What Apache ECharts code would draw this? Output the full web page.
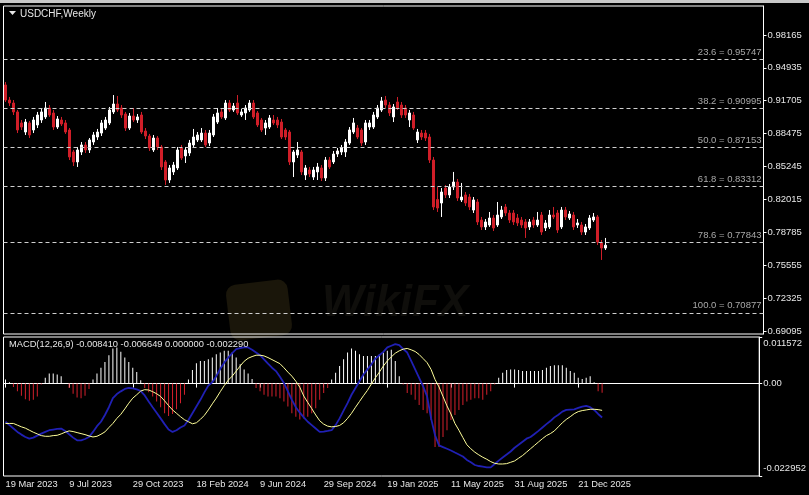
<!DOCTYPE html>
<html><head><meta charset="utf-8">
<script src="https://cdn.jsdelivr.net/npm/echarts@6/dist/echarts.min.js"></script>
<style>html,body{margin:0;padding:0;background:#000}#c{width:809px;height:495px}</style>
</head><body><div id="c"></div>
<script>
const symbolTitle = 'USDCHF,Weekly';
const weekCount = 190;
const tickLabels = ['19 Mar 2023','9 Jul 2023','29 Oct 2023','18 Feb 2024','9 Jun 2024','29 Sep 2024','19 Jan 2025','11 May 2025','31 Aug 2025','21 Dec 2025'];
const priceTicks = [0.69095,0.72325,0.75555,0.78785,0.82015,0.85245,0.88475,0.91705,0.94935,0.98165];
const macdTicks = [-0.022952, 0, 0.011572];
const fibLevels = [23.6,38.2,50.0,61.8,78.6,100.0];
const fibPrices = [0.95747,0.90995,0.87153,0.83312,0.77843,0.70877];
const lastPrice = 0.77518;
const macdHeader = [-0.008410,-0.006649,0.000000,-0.002290];

const opens = [0.9325,0.9177,0.9148,0.9060,0.8952,0.8863,0.8952,0.8883,0.8932,0.8981,
0.9011,0.9099,0.9050,0.8912,0.8981,0.8952,0.8883,0.8667,0.8569,0.8667,
0.8736,0.8687,0.8765,0.8814,0.8853,0.8902,0.8952,0.9060,0.9138,0.9099,
0.9040,0.8902,0.9020,0.8981,0.9030,0.8873,0.8824,0.8687,0.8804,0.8716,
0.8569,0.8392,0.8471,0.8510,0.8706,0.8628,0.8657,0.8736,0.8785,0.8785,
0.8853,0.8755,0.8834,0.8961,0.9060,0.9001,0.9148,0.9079,0.9148,0.9030,
0.9050,0.9079,0.9148,0.9050,0.8981,0.8902,0.8912,0.8981,0.8981,0.8961,
0.8883,0.8863,0.8569,0.8637,0.8667,0.8441,0.8490,0.8421,0.8471,0.8510,
0.8412,0.8588,0.8569,0.8647,0.8667,0.8667,0.8755,0.8863,0.8902,0.8883,
0.8765,0.8912,0.8912,0.9011,0.9079,0.9177,0.9128,0.9011,0.9158,0.9128,
0.9099,0.8981,0.9030,0.8785,0.8853,0.8853,0.8814,0.8588,0.8200,0.8166,
0.8313,0.8245,0.8323,0.8372,0.8196,0.8245,0.8225,0.8097,0.8176,0.7999,
0.7931,0.7950,0.8019,0.7950,0.8029,0.8127,0.8068,0.8068,0.8019,0.7999,
0.7980,0.7931,0.7999,0.7950,0.8048,0.7921,0.7931,0.8048,0.8068,0.7931,
0.8097,0.8019,0.8048,0.7950,0.7950,0.7881,0.7921,0.7999,0.8029,0.7774,
0.7724];
const closes = [0.9177,0.9148,0.9060,0.8883,0.8912,0.8961,0.8834,0.8981,0.9030,0.9060,
0.9099,0.9030,0.8912,0.8991,0.8942,0.8863,0.8618,0.8569,0.8687,0.8736,
0.8687,0.8785,0.8834,0.8863,0.8952,0.8981,0.9079,0.9138,0.9079,0.9030,
0.8902,0.9020,0.8981,0.9011,0.8863,0.8824,0.8706,0.8804,0.8716,0.8520,
0.8392,0.8510,0.8539,0.8687,0.8608,0.8687,0.8755,0.8814,0.8834,0.8853,
0.8736,0.8853,0.9011,0.9050,0.9011,0.9148,0.9079,0.9118,0.9050,0.9060,
0.9099,0.9148,0.9011,0.8932,0.8883,0.8952,0.9001,0.8952,0.8932,0.8814,
0.8814,0.8569,0.8667,0.8687,0.8471,0.8510,0.8451,0.8490,0.8520,0.8412,
0.8588,0.8520,0.8647,0.8677,0.8706,0.8765,0.8883,0.8952,0.8814,0.8755,
0.8952,0.8952,0.9030,0.9099,0.9168,0.9128,0.9050,0.9109,0.9099,0.9030,
0.9030,0.9050,0.8902,0.8863,0.8814,0.8804,0.8588,0.8127,0.8117,0.8274,
0.8245,0.8323,0.8372,0.8215,0.8225,0.8166,0.8127,0.8196,0.7980,0.7931,
0.7980,0.8019,0.7921,0.8048,0.8097,0.8068,0.7999,0.7980,0.7970,0.7950,
0.7921,0.7980,0.7950,0.7999,0.7881,0.7970,0.8048,0.8029,0.7901,0.8097,
0.8029,0.8058,0.7931,0.7970,0.7881,0.7931,0.8019,0.8029,0.7783,0.7724,
0.77518];
const lows = [0.9158,0.9118,0.9030,0.8853,0.8883,0.8834,0.8804,0.8853,0.8902,0.8952,
0.8991,0.9011,0.8883,0.8893,0.8922,0.8844,0.8588,0.8529,0.8520,0.8637,
0.8657,0.8657,0.8736,0.8785,0.8824,0.8883,0.8932,0.9040,0.9060,0.9001,
0.8873,0.8883,0.8961,0.8952,0.8844,0.8794,0.8677,0.8667,0.8687,0.8490,
0.8343,0.8363,0.8441,0.8490,0.8588,0.8559,0.8628,0.8716,0.8765,0.8765,
0.8716,0.8726,0.8814,0.8942,0.8991,0.8981,0.9060,0.9060,0.9030,0.9011,
0.8981,0.9060,0.8991,0.8912,0.8863,0.8834,0.8893,0.8932,0.8902,0.8794,
0.8785,0.8539,0.8421,0.8608,0.8441,0.8392,0.8421,0.8392,0.8392,0.8382,
0.8382,0.8500,0.8549,0.8618,0.8637,0.8618,0.8736,0.8844,0.8794,0.8726,
0.8736,0.8883,0.8893,0.8991,0.9060,0.9099,0.9020,0.8961,0.9079,0.9001,
0.9001,0.8912,0.8883,0.8755,0.8785,0.8775,0.8559,0.8097,0.8078,0.8029,
0.8215,0.8215,0.8294,0.8186,0.8176,0.8137,0.8097,0.8068,0.7950,0.7901,
0.7901,0.7931,0.7891,0.7931,0.8009,0.8039,0.7970,0.7950,0.7940,0.7921,
0.7823,0.7901,0.7921,0.7931,0.7852,0.7891,0.7911,0.8009,0.7872,0.7911,
0.7999,0.7999,0.7901,0.7921,0.7852,0.7852,0.7901,0.7980,0.7754,0.7607,
0.7705];
const highs = [0.9354,0.9207,0.9177,0.9079,0.8981,0.8991,0.8971,0.9011,0.9060,0.9089,
0.9158,0.9128,0.9079,0.9020,0.9011,0.8981,0.8902,0.8687,0.8716,0.8765,
0.8765,0.8804,0.8863,0.8893,0.8981,0.9011,0.9109,0.9226,0.9217,0.9128,
0.9060,0.9050,0.9099,0.9040,0.9060,0.8902,0.8844,0.8834,0.8824,0.8736,
0.8588,0.8539,0.8569,0.8716,0.8736,0.8716,0.8785,0.8893,0.8863,0.8902,
0.8883,0.8883,0.9040,0.9099,0.9089,0.9177,0.9177,0.9148,0.9226,0.9089,
0.9128,0.9177,0.9177,0.9069,0.9001,0.8981,0.9030,0.9030,0.9011,0.8991,
0.8902,0.8883,0.8687,0.8765,0.8687,0.8539,0.8520,0.8520,0.8559,0.8539,
0.8618,0.8618,0.8677,0.8706,0.8736,0.8794,0.8912,0.9001,0.8932,0.8902,
0.8981,0.8981,0.9060,0.9128,0.9207,0.9217,0.9158,0.9138,0.9207,0.9158,
0.9128,0.9079,0.9060,0.8893,0.8883,0.8883,0.8844,0.8618,0.8323,0.8313,
0.8343,0.8353,0.8471,0.8402,0.8363,0.8274,0.8255,0.8225,0.8205,0.8029,
0.8009,0.8078,0.8048,0.8176,0.8137,0.8156,0.8097,0.8097,0.8058,0.8029,
0.8009,0.8009,0.8029,0.8078,0.8078,0.7999,0.8097,0.8127,0.8097,0.8127,
0.8127,0.8088,0.8078,0.8009,0.7980,0.7960,0.8048,0.8068,0.8048,0.7803,
0.7823];

const histogram = [0.00101,0.00034,-0.00084,-0.00193,-0.00302,-0.00386,-0.00428,-0.00403,-0.00319,-0.00025,
0.00143,0.00252,0.00252,0.00227,0.00185,0.00017,-0.00109,-0.00252,-0.00344,-0.00361,
-0.00302,-0.00134,0.00101,0.00252,0.00394,0.00537,0.00705,0.00873,0.00898,0.00789,
0.00646,0.00537,0.00394,0.00285,0.00084,-0.00109,-0.00218,-0.00319,-0.00445,-0.00587,
-0.00738,-0.00805,-0.00755,-0.00638,-0.00487,-0.00277,0.00101,0.00336,0.00503,0.00562,
0.00562,0.00604,0.00646,0.00730,0.00772,0.00814,0.00814,0.00772,0.00646,0.00478,
0.00352,0.00252,0.00117,-0.00109,-0.00193,-0.00277,-0.00319,-0.00319,-0.00319,-0.00361,
-0.00445,-0.00571,-0.00738,-0.00822,-0.00889,-0.00864,-0.00822,-0.00738,-0.00612,-0.00403,
-0.00235,-0.00109,0.00101,0.00268,0.00436,0.00604,0.00772,0.00873,0.00814,0.00730,
0.00688,0.00688,0.00688,0.00688,0.00730,0.00772,0.00814,0.00839,0.00562,0.00185,
-0.00025,-0.00235,-0.00277,-0.00403,-0.00529,-0.00654,-0.00738,-0.00906,-0.01577,-0.01577,
-0.01326,-0.01158,-0.00906,-0.00780,-0.00654,-0.00529,-0.00445,-0.00403,-0.00361,-0.00361,
-0.00403,-0.00277,-0.00193,-0.00025,0.00143,0.00268,0.00336,0.00352,0.00352,0.00336,
0.00310,0.00310,0.00310,0.00310,0.00310,0.00336,0.00394,0.00436,0.00453,0.00453,
0.00453,0.00394,0.00310,0.00268,0.00143,0.00117,0.00143,0.00185,0.00034,-0.00193,
-0.00229];
const signalLine = [-0.00990,-0.00990,-0.00990,-0.01032,-0.01074,-0.01107,-0.01158,-0.01208,-0.01250,-0.01292,
-0.01309,-0.01309,-0.01292,-0.01284,-0.01250,-0.01208,-0.01175,-0.01191,-0.01217,-0.01242,
-0.01267,-0.01300,-0.01326,-0.01309,-0.01259,-0.01200,-0.01091,-0.00990,-0.00864,-0.00763,
-0.00629,-0.00487,-0.00361,-0.00277,-0.00185,-0.00151,-0.00159,-0.00201,-0.00252,-0.00319,
-0.00428,-0.00545,-0.00654,-0.00738,-0.00822,-0.00898,-0.00948,-0.00998,-0.00973,-0.00889,
-0.00789,-0.00654,-0.00503,-0.00361,-0.00201,-0.00050,0.00084,0.00185,0.00310,0.00436,
0.00554,0.00629,0.00671,0.00705,0.00705,0.00688,0.00646,0.00596,0.00545,0.00495,
0.00394,0.00285,0.00185,0.00059,-0.00092,-0.00310,-0.00470,-0.00621,-0.00780,-0.00923,
-0.01007,-0.01057,-0.01074,-0.01066,-0.01040,-0.00973,-0.00864,-0.00738,-0.00587,-0.00445,
-0.00302,-0.00168,-0.00008,0.00143,0.00285,0.00436,0.00562,0.00663,0.00755,0.00814,
0.00856,0.00873,0.00839,0.00797,0.00722,0.00621,0.00520,0.00352,0.00101,-0.00084,
-0.00319,-0.00554,-0.00755,-0.00990,-0.01158,-0.01342,-0.01519,-0.01619,-0.01703,-0.01770,
-0.01829,-0.01879,-0.01938,-0.01980,-0.01997,-0.01997,-0.01988,-0.01955,-0.01921,-0.01854,
-0.01787,-0.01703,-0.01619,-0.01535,-0.01451,-0.01368,-0.01292,-0.01242,-0.01175,-0.01074,
-0.00973,-0.00889,-0.00822,-0.00747,-0.00696,-0.00671,-0.00654,-0.00638,-0.00638,-0.00646,
-0.006649];
const macdLine = [-0.00948,-0.01032,-0.01116,-0.01200,-0.01267,-0.01326,-0.01368,-0.01342,-0.01292,-0.01242,
-0.01200,-0.01158,-0.01141,-0.01124,-0.01116,-0.01175,-0.01259,-0.01342,-0.01410,-0.01410,
-0.01376,-0.01326,-0.01200,-0.01057,-0.00948,-0.00780,-0.00587,-0.00361,-0.00260,-0.00193,
-0.00134,-0.00109,-0.00117,-0.00143,-0.00185,-0.00294,-0.00445,-0.00587,-0.00722,-0.00864,
-0.01007,-0.01141,-0.01200,-0.01158,-0.01091,-0.01040,-0.00906,-0.00738,-0.00571,-0.00403,
-0.00218,-0.00050,0.00034,0.00185,0.00369,0.00520,0.00646,0.00755,0.00856,0.00881,
0.00898,0.00898,0.00839,0.00772,0.00705,0.00604,0.00495,0.00394,0.00310,0.00168,
0.00017,-0.00193,-0.00403,-0.00587,-0.00722,-0.00839,-0.00948,-0.01032,-0.01116,-0.01200,
-0.01191,-0.01175,-0.01158,-0.01032,-0.00864,-0.00671,-0.00487,-0.00277,-0.00109,0.00059,
0.00227,0.00352,0.00478,0.00621,0.00705,0.00789,0.00898,0.00940,0.00982,0.00956,
0.00856,0.00772,0.00562,0.00352,0.00143,-0.00067,-0.00319,-0.00864,-0.01284,-0.01535,
-0.01577,-0.01619,-0.01661,-0.01712,-0.01762,-0.01812,-0.01896,-0.01955,-0.02022,-0.02047,
-0.02064,-0.02081,-0.02081,-0.01997,-0.01913,-0.01837,-0.01762,-0.01686,-0.01594,-0.01519,
-0.01443,-0.01368,-0.01326,-0.01250,-0.01175,-0.01091,-0.01007,-0.00931,-0.00839,-0.00772,
-0.00696,-0.00654,-0.00646,-0.00638,-0.00604,-0.00571,-0.00554,-0.00587,-0.00654,-0.00755,
-0.00841];

const monthNames = ['Jan','Feb','Mar','Apr','May','Jun','Jul','Aug','Sep','Oct','Nov','Dec'];
const categories = [];
const firstWeek = Date.UTC(2023, 2, 19);
for (let i = 0; i < weekCount; i++) {
  const d = new Date(firstWeek + i * 7 * 86400000);
  categories.push(d.getUTCDate() + ' ' + monthNames[d.getUTCMonth()] + ' ' + d.getUTCFullYear());
}
const candles = opens.map((o, i) => [o, closes[i], lows[i], highs[i]]);
const showDate = (idx, val) => tickLabels.indexOf(val) >= 0;

const FONT = 'Liberation Sans';
const chart = echarts.init(document.getElementById('c'), null, {renderer: 'canvas'});
chart.setOption({
  backgroundColor: '#000',
  animation: false,
  textStyle: {fontFamily: FONT},
  title: [
    {text: symbolTitle, left: 20, top: 9, padding: 0,
     textStyle: {color: '#e6e6e6', fontSize: 10, fontWeight: 'normal', fontFamily: FONT}},
    {text: 'MACD(12,26,9) ' + macdHeader.map(v => v.toFixed(6)).join(' '), left: 9, top: 340, padding: 0,
     textStyle: {color: '#e6e6e6', fontSize: 9.3, fontWeight: 'normal', fontFamily: FONT}}
  ],
  graphic: [
    {type: 'rect', shape: {x: 0, y: 0, width: 809, height: 3}, style: {fill: '#c8c8c8'}, silent: true},
    {type: 'polygon', shape: {points: [[9, 11], [16, 11], [12.5, 15]]}, style: {fill: '#e6e6e6'}, silent: true},
    {type: 'rect', shape: {x: 228, y: 282, width: 62, height: 56, r: 10}, rotation: 0.12, originX: 259, originY: 310,
     style: {fill: '#1a160a'}, silent: true, z: -1},
    {type: 'text', left: 322, top: 282, z: -1, silent: true,
     style: {text: 'WikiFX', fill: '#0f0e0b', font: 'bold italic 44px "Liberation Sans"'}}
  ],
  grid: [
    {left: 3.5, right: 45.5, top: 6, height: 328, show: true, borderColor: '#ffffff', borderWidth: 1, backgroundColor: 'transparent'},
    {left: 3.5, right: 45.5, top: 337, height: 139, show: true, borderColor: '#ffffff', borderWidth: 1, backgroundColor: 'transparent'}
  ],
  xAxis: [
    {type: 'category', gridIndex: 0, data: categories, boundaryGap: true,
     axisLine: {show: false}, axisTick: {show: false}, axisLabel: {show: false}, splitLine: {show: false}},
    {type: 'category', gridIndex: 1, data: categories, boundaryGap: true,
     axisLine: {show: true, lineStyle: {color: '#ffffff'}},
     axisTick: {show: true, alignWithLabel: true, interval: showDate, length: 4, lineStyle: {color: '#ffffff'}},
     axisLabel: {show: true, interval: showDate, align: 'left', margin: 4, color: '#e6e6e6', fontSize: 9.3, fontFamily: FONT},
     splitLine: {show: false}}
  ],
  yAxis: [
    {type: 'value', gridIndex: 0, position: 'right', min: 0.688, max: 1.01002, scale: true,
     axisLine: {show: true, lineStyle: {color: '#ffffff'}},
     axisTick: {show: true, customValues: priceTicks, length: 3, lineStyle: {color: '#ffffff'}},
     axisLabel: {show: true, customValues: priceTicks, formatter: v => v.toFixed(5), margin: 4,
                 color: '#e6e6e6', fontSize: 9.5, fontFamily: FONT},
     splitLine: {show: false}},
    {type: 'value', gridIndex: 1, position: 'right', min: -0.022952, max: 0.011572,
     axisLine: {show: true, lineStyle: {color: '#ffffff'}},
     axisTick: {show: true, customValues: macdTicks, length: 3, lineStyle: {color: '#ffffff'}},
     axisLabel: {show: true, customValues: macdTicks, margin: 4, color: '#e6e6e6', fontSize: 9.5, fontFamily: FONT,
       formatter: v => v === 0 ? '0.00' : (v > 0 ? '{t|' + v.toFixed(6) + '}' : '{b|' + v.toFixed(6) + '}'),
       rich: {t: {padding: [12, 0, 0, 0], fontSize: 9.5, color: '#e6e6e6'}, b: {padding: [0, 0, 16, 0], fontSize: 9.5, color: '#e6e6e6'}}},
     splitLine: {show: false}}
  ],
  series: [
    {type: 'candlestick', xAxisIndex: 0, yAxisIndex: 0, data: candles, barWidth: 3,
     itemStyle: {color: '#ffffff', color0: '#d01e28', borderColor: '#ffffff', borderColor0: '#d01e28', borderWidth: 1},
     markLine: {
       symbol: 'none', silent: true, animation: false, precision: 5,
       lineStyle: {color: '#cfcfcf', type: [4, 3], width: 1},
       label: {position: 'insideEndTop', distance: 2, color: '#a9a9a9', fontSize: 9.5, fontFamily: FONT,
               formatter: p => p.name + ' = ' + Number(p.value).toFixed(5)},
       data: fibLevels.map((l, i) => ({name: l.toFixed(1), yAxis: fibPrices[i]})).concat([
         {name: 'last', yAxis: lastPrice, lineStyle: {opacity: 0},
          label: {position: 'end', distance: 2, formatter: lastPrice.toFixed(5), backgroundColor: '#ffffff',
                  color: '#000000', padding: [2, 3, 1, 3], fontSize: 9.5, fontFamily: FONT}}
       ])
     }},
    {type: 'bar', xAxisIndex: 1, yAxisIndex: 1, data: histogram, barWidth: 1,
     itemStyle: {color: p => p.value >= 0 ? '#ffffff' : '#d4202c'}},
    {type: 'line', xAxisIndex: 1, yAxisIndex: 1, data: macdLine, showSymbol: false, smooth: false,
     lineStyle: {color: '#2020b4', width: 1.8}, z: 3},
    {type: 'line', xAxisIndex: 1, yAxisIndex: 1, data: signalLine, showSymbol: false, smooth: false,
     lineStyle: {color: '#ffff9a', width: 1}, z: 4}
  ]
});
</script>
</body></html>
